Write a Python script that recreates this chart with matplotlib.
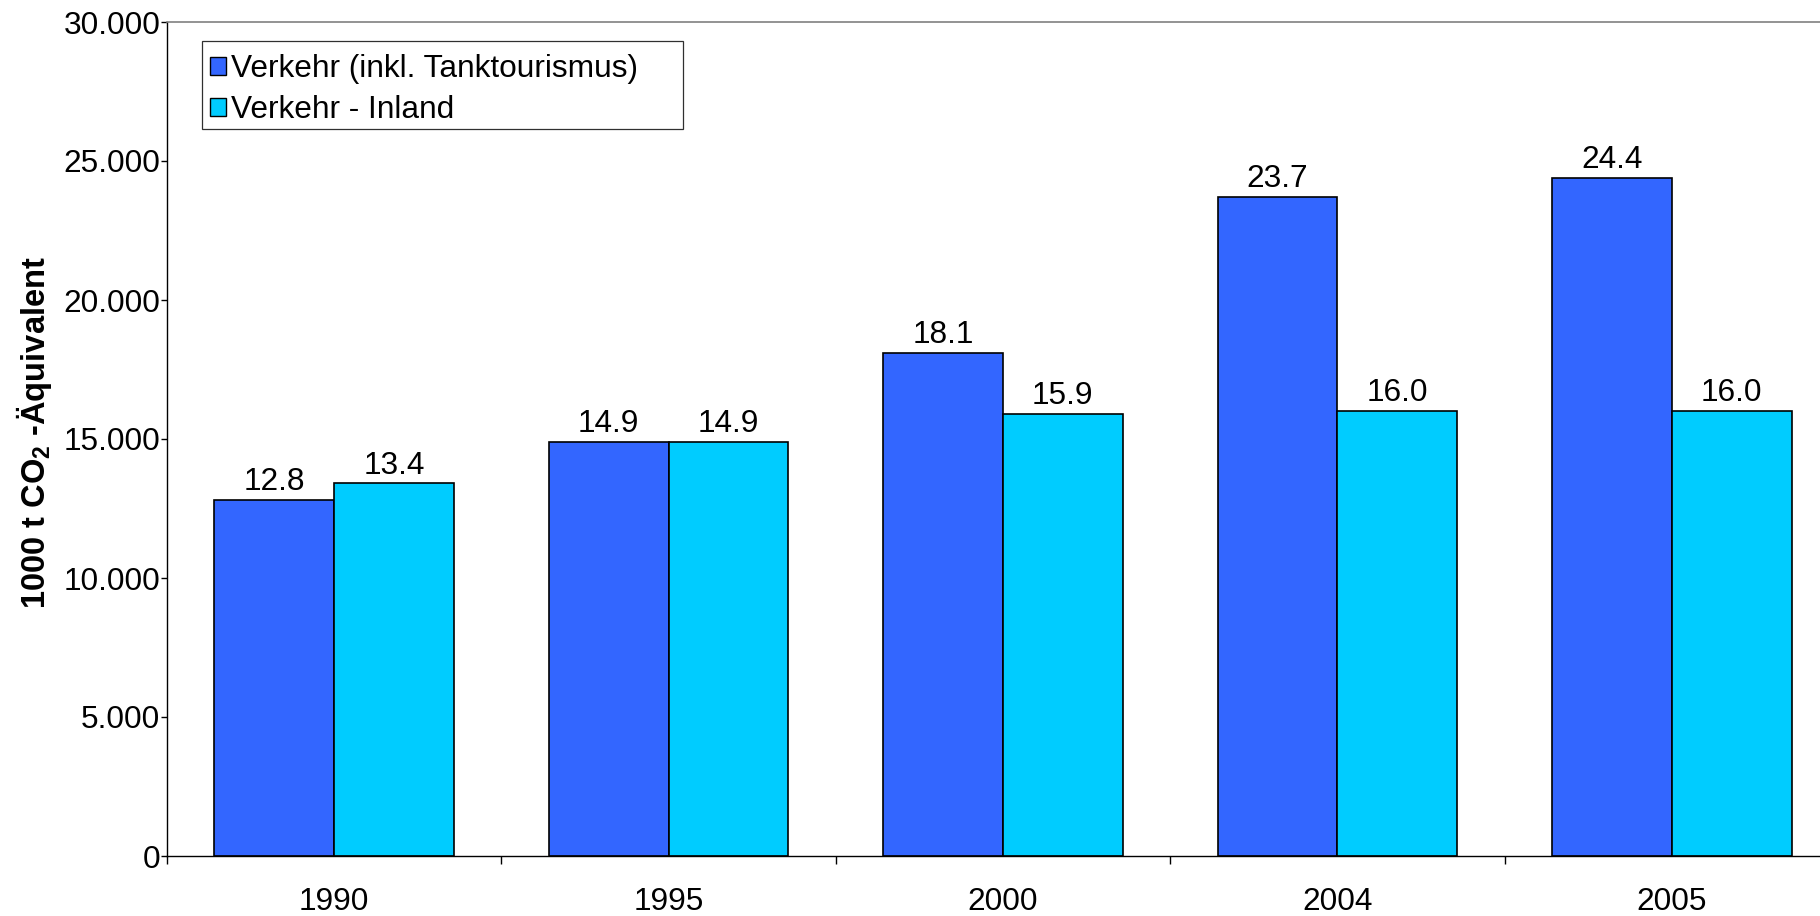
import matplotlib
matplotlib.use("Agg")
import matplotlib.pyplot as plt
import numpy as np
from matplotlib.patches import Patch, Rectangle
from matplotlib.ticker import FuncFormatter, FixedLocator

plt.rcParams['font.family'] = ['Liberation Sans', 'DejaVu Sans']
plt.rcParams['mathtext.fontset'] = 'custom'
plt.rcParams['mathtext.rm'] = 'Liberation Sans'
plt.rcParams['mathtext.bf'] = 'Liberation Sans:bold'

# Emissions of the transport sector, 1000 t CO2-equivalent
years = ["1990", "1995", "2000", "2004", "2005"]
verkehr_gesamt = [12800, 14900, 18100, 23700, 24400]
verkehr_inland = [13400, 14900, 15900, 16000, 16000]
series_names = ["Verkehr (inkl. Tanktourismus)", "Verkehr - Inland"]
colors = ["#3366FF", "#00CCFF"]

FS = 22.8
W, H = 1820, 916
fig = plt.figure(figsize=(W / 100, H / 100), dpi=100)
ax = fig.add_axes([167 / W, (H - 856) / H, 1672 / W, 834 / H])

pos = np.arange(len(years)) + 0.5
bw = 0.358
for off, vals, col in ((-bw / 2, verkehr_gesamt, colors[0]),
                       (bw / 2, verkehr_inland, colors[1])):
    bars = ax.bar(pos + off, vals, bw, color=col, edgecolor="black",
                  linewidth=1.2, zorder=2)
    for b, v in zip(bars, vals):
        ax.annotate(f"{v / 1000:.1f}", (b.get_x() + b.get_width() / 2, v),
                    xytext=(0, 7), textcoords="offset points",
                    ha="center", va="baseline", fontsize=FS)

ax.set_xlim(0, len(years))
ax.set_ylim(0, 30000)
ax.set_yticks(np.arange(0, 30001, 5000))
ax.yaxis.set_major_formatter(
    FuncFormatter(lambda v, p: f"{int(v):,}".replace(",", ".")))

# category boundaries carry the ticks, centres carry the labels
ax.xaxis.set_major_locator(FixedLocator(np.arange(len(years) + 1)))
ax.xaxis.set_minor_locator(FixedLocator(pos))
ax.set_xticklabels([])
ax.set_xticklabels(years, minor=True)
ax.tick_params(axis="x", which="major", length=6, width=1, direction="out")
ax.tick_params(axis="x", which="minor", length=0, pad=22, labelsize=FS)
ax.tick_params(axis="y", length=4, width=1, direction="out", pad=0.8,
               labelsize=FS)

for s in ("left", "bottom"):
    ax.spines[s].set_color("black")
    ax.spines[s].set_linewidth(1)
ax.spines["top"].set_color("#808080")
ax.spines["top"].set_linewidth(1.2)
ax.spines["right"].set_visible(False)

fig.text(34 / W, 1 - 433 / H, r"1000 t CO$_\mathbf{2}$ -Äquivalent",
         rotation=90, ha="center", va="center", fontsize=23.5,
         fontweight="bold")

# legend box
frame = Rectangle((202 / W, (H - 129) / H), 481 / W, 88 / H,
                  transform=fig.transFigure, facecolor="white",
                  edgecolor="#303030", linewidth=0.9, zorder=5)
ax.add_patch(frame)
handles = [Patch(facecolor=c, edgecolor="black", linewidth=1.0) for c in colors]
leg = ax.legend(handles, series_names, loc="upper left",
                bbox_to_anchor=(210 / W, 1 - 54 / H),
                bbox_transform=fig.transFigure, frameon=False,
                fontsize=FS, borderpad=0, borderaxespad=0,
                handlelength=0.52, handleheight=0.52, handletextpad=0.15,
                labelspacing=0.36)
leg.set_zorder(6)

fig.savefig("out.png", dpi=100)
